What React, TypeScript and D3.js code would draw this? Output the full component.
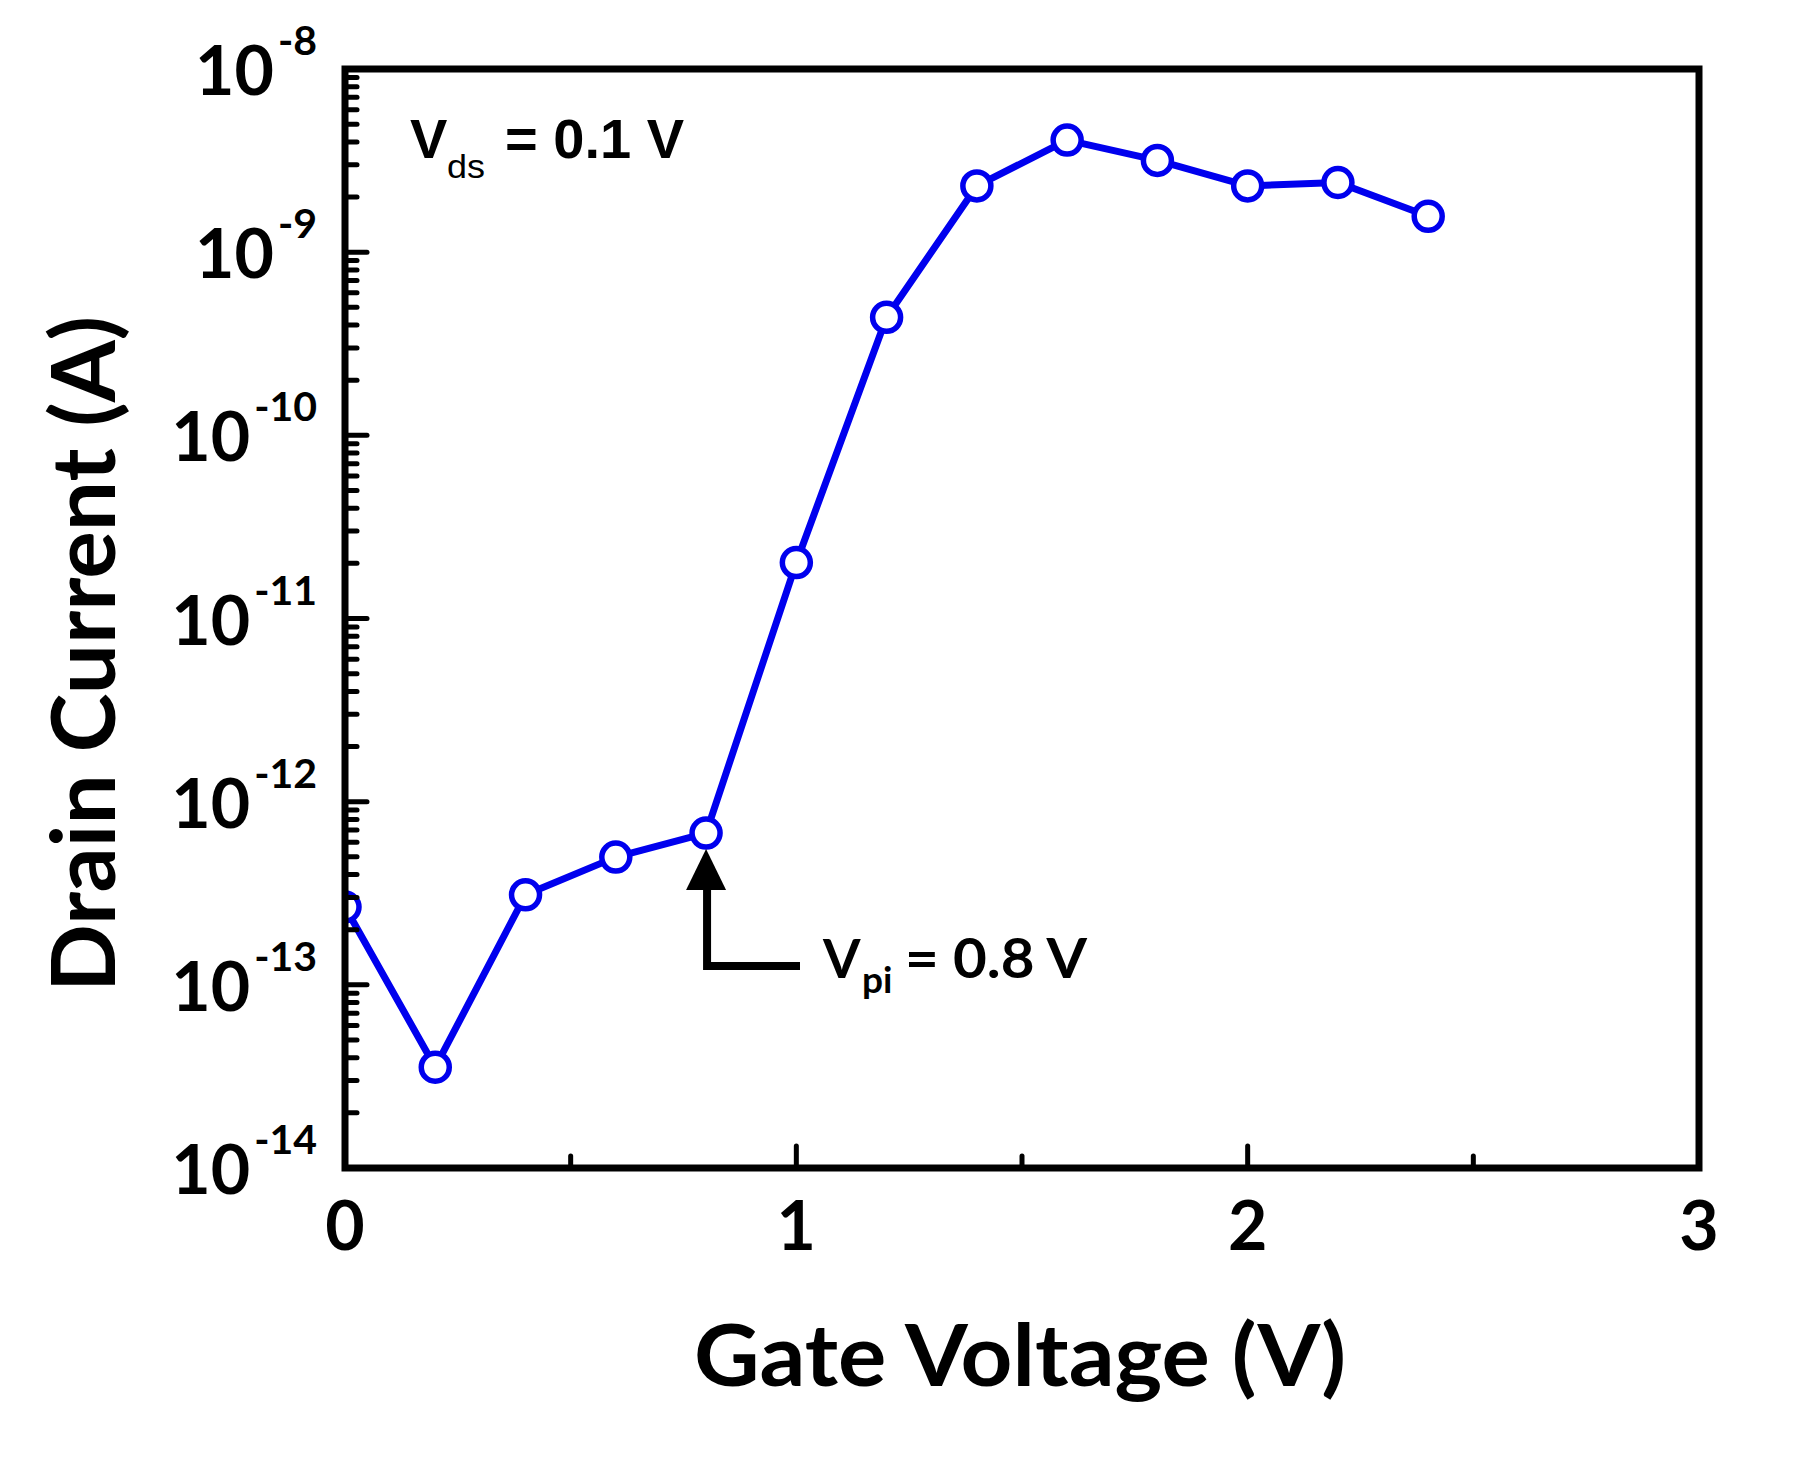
import React from "react";
import * as d3 from "d3";

const gateVoltage = [0, 0.2, 0.4, 0.6, 0.8, 1.0, 1.2, 1.4, 1.6, 1.8, 2.0, 2.2, 2.4];
const drainCurrent = [
  2.66e-13, 3.55e-14, 3.1e-13, 4.98e-13, 6.74e-13, 2.02e-11, 4.41e-10, 2.3e-9, 4.09e-9,
  3.17e-9, 2.3e-9, 2.4e-9, 1.57e-9,
];
const yDecades = [-14, -13, -12, -11, -10, -9, -8];
const xTickLabels = [0, 1, 2, 3];
const xInnerTicks = [0.5, 1, 1.5, 2, 2.5];
const vpiValue = 0.8;

const W = 1804;
const H = 1470;
const L = 345, R = 1699, T = 69, B = 1168;
const FONT = "Lato, 'Open Sans', sans-serif";
const ARIAL = "'Liberation Sans', Arial, sans-serif";
const BLUE = "#0000EE";

export default function App() {
  const x = d3.scaleLinear().domain([0, 3]).range([L, R]);
  const y = d3.scaleLog().domain([1e-14, 1e-8]).range([B, T]);
  const line = d3
    .line<number>()
    .x((_, i) => x(gateVoltage[i]))
    .y((d) => y(d));

  const minor: number[] = [];
  yDecades.slice(0, -1).forEach((k) => {
    for (let m = 2; m <= 9; m++) minor.push(m * Math.pow(10, k));
  });

  const vpiIdx = gateVoltage.indexOf(vpiValue);
  const ax = x(vpiValue);
  const tipY = y(drainCurrent[vpiIdx]) + 16;
  const headBase = tipY + 41;
  const cornerY = tipY + 117;

  return (
    <svg
      width={W}
      height={H}
      style={{ position: "absolute", left: 0, top: 0, background: "#fff" }}
    >
      <defs>
        <clipPath id="plotClip">
          <rect x={L} y={T} width={R - L} height={B - T} />
        </clipPath>
      </defs>
      <rect x={0} y={0} width={W} height={H} fill="#fff" />

      {/* data */}
      <g clipPath="url(#plotClip)">
        <path d={line(drainCurrent) || ""} fill="none" stroke={BLUE} strokeWidth={7} strokeLinejoin="round" />
        {drainCurrent.map((d, i) => (
          <circle key={i} cx={x(gateVoltage[i])} cy={y(d)} r={14} fill="#fff" stroke={BLUE} strokeWidth={5.5} />
        ))}
      </g>

      {/* y ticks */}
      {yDecades.map((k) => (
        <line key={"M" + k} x1={L} x2={L + 22} y1={y(Math.pow(10, k))} y2={y(Math.pow(10, k))} stroke="#000" strokeWidth={5} strokeLinecap="round" />
      ))}
      {minor.map((v, i) => (
        <line key={"m" + i} x1={L} x2={L + 12} y1={y(v)} y2={y(v)} stroke="#000" strokeWidth={5} strokeLinecap="round" />
      ))}
      {/* x ticks */}
      {xInnerTicks.map((v) => (
        <line key={"x" + v} x1={x(v)} x2={x(v)} y1={B} y2={B - (Number.isInteger(v) ? 22 : 12)} stroke="#000" strokeWidth={5} strokeLinecap="round" />
      ))}

      {/* frame */}
      <rect x={L} y={T} width={R - L} height={B - T} fill="none" stroke="#000" strokeWidth={7} />

      {/* y labels */}
      {yDecades.map((k) => (
        <text key={"yl" + k} x={317} y={y(Math.pow(10, k)) + 26} textAnchor="end" fontFamily={FONT} fontWeight={700} fontSize={68} fill="#000">
          10
          <tspan dx={4} dy={-40} fontSize={41}>{String(k)}</tspan>
        </text>
      ))}
      {/* x labels */}
      {xTickLabels.map((v) => (
        <text key={"xl" + v} x={x(v)} y={1250} textAnchor="middle" fontFamily={FONT} fontWeight={700} fontSize={68} fill="#000">
          {v}
        </text>
      ))}

      {/* axis titles */}
      <text x={1020} y={1386} textAnchor="middle" fontFamily={FONT} fontWeight={700} fontSize={86} textLength={652} lengthAdjust="spacingAndGlyphs" fill="#000">
        Gate Voltage (V)
      </text>
      <text transform="translate(115,654) rotate(-90)" textAnchor="middle" fontFamily={FONT} fontWeight={700} fontSize={88} textLength={676} lengthAdjust="spacingAndGlyphs" fill="#000">
        Drain Current (A)
      </text>

      {/* Vds annotation */}
      <text x={410} y={158} fontFamily={ARIAL} fontWeight={700} fontSize={56} fill="#000">V</text>
      <text x={447} y={178} fontFamily={ARIAL} fontWeight={400} fontSize={34} textLength={38} lengthAdjust="spacingAndGlyphs" fill="#000">ds</text>
      <text x={505} y={158} fontFamily={ARIAL} fontWeight={700} fontSize={56} fill="#000">= 0.1 V</text>

      {/* Vpi arrow */}
      <path d={`M${ax},${tipY} L${ax - 20},${headBase} L${ax + 20},${headBase} Z`} fill="#000" />
      <path d={`M${ax + 1},${headBase - 2} L${ax + 1},${cornerY} L${800},${cornerY}`} fill="none" stroke="#000" strokeWidth={8} />
      <text x={823} y={978} fontFamily={FONT} fontWeight={700} fontSize={54} fill="#000">V</text>
      <text x={862} y={993} fontFamily={FONT} fontWeight={700} fontSize={37} fill="#000">pi</text>
      <text x={905} y={978} fontFamily={FONT} fontWeight={700} fontSize={56} textLength={182} lengthAdjust="spacingAndGlyphs" fill="#000">= 0.8 V</text>
    </svg>
  );
}
